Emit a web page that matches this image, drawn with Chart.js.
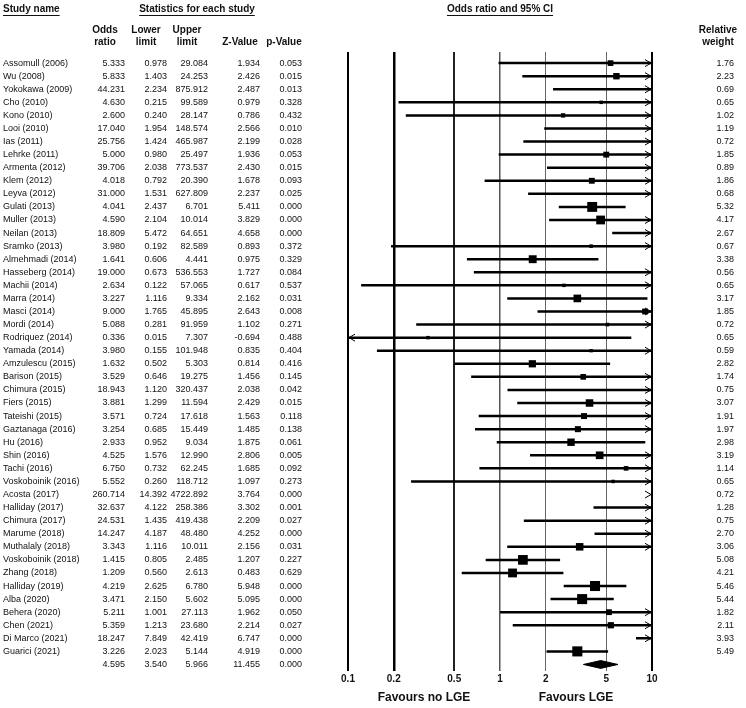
<!DOCTYPE html>
<html>
<head>
<meta charset="utf-8">
<script src="https://cdn.jsdelivr.net/npm/chart.js@4.4.0/dist/chart.umd.min.js"></script>
<style>
  html, body { margin: 0; padding: 0; background: #fff; }
  #wrap { position: relative; width: 746px; height: 708px; }
</style>
</head>
<body>
<div id="wrap"><canvas id="forest" width="746" height="708"></canvas></div>
<script>
// Dados do forest plot
const studies = [
    'Assomull (2006)', 'Wu (2008)', 'Yokokawa (2009)', 'Cho (2010)', 'Kono (2010)', 'Looi (2010)',
    'Ias (2011)', 'Lehrke (2011)', 'Armenta (2012)', 'Klem (2012)', 'Leyva (2012)', 'Gulati (2013)',
    'Muller (2013)', 'Neilan (2013)', 'Sramko (2013)', 'Almehmadi (2014)', 'Hasseberg (2014)', 'Machii (2014)',
    'Marra (2014)', 'Masci (2014)', 'Mordi (2014)', 'Rodriquez (2014)', 'Yamada (2014)', 'Amzulescu (2015)',
    'Barison (2015)', 'Chimura (2015)', 'Fiers (2015)', 'Tateishi (2015)', 'Gaztanaga (2016)', 'Hu (2016)',
    'Shin (2016)', 'Tachi (2016)', 'Voskoboinik (2016)', 'Acosta (2017)', 'Halliday (2017)', 'Chimura (2017)',
    'Marume (2018)', 'Muthalaly (2018)', 'Voskoboinik (2018)', 'Zhang (2018)', 'Halliday (2019)', 'Alba (2020)',
    'Behera (2020)', 'Chen (2021)', 'Di Marco (2021)', 'Guarici (2021)'
];
const oddsRatio = [
    5.333, 5.833, 44.231, 4.630, 2.600, 17.040, 25.756, 5.000, 39.706, 4.018, 31.000, 4.041,
    4.590, 18.809, 3.980, 1.641, 19.000, 2.634, 3.227, 9.000, 5.088, 0.336, 3.980, 1.632,
    3.529, 18.943, 3.881, 3.571, 3.254, 2.933, 4.525, 6.750, 5.552, 260.714, 32.637, 24.531,
    14.247, 3.343, 1.415, 1.209, 4.219, 3.471, 5.211, 5.359, 18.247, 3.226
];
const lowerLimit = [
    0.978, 1.403, 2.234, 0.215, 0.240, 1.954, 1.424, 0.980, 2.038, 0.792, 1.531, 2.437,
    2.104, 5.472, 0.192, 0.606, 0.673, 0.122, 1.116, 1.765, 0.281, 0.015, 0.155, 0.502,
    0.646, 1.120, 1.299, 0.724, 0.685, 0.952, 1.576, 0.732, 0.260, 14.392, 4.122, 1.435,
    4.187, 1.116, 0.805, 0.560, 2.625, 2.150, 1.001, 1.213, 7.849, 2.023
];
const upperLimit = [
    29.084, 24.253, 875.912, 99.589, 28.147, 148.574, 465.987, 25.497, 773.537, 20.390, 627.809, 6.701,
    10.014, 64.651, 82.589, 4.441, 536.553, 57.065, 9.334, 45.895, 91.959, 7.307, 101.948, 5.303,
    19.275, 320.437, 11.594, 17.618, 15.449, 9.034, 12.990, 62.245, 118.712, 4722.892, 258.386, 419.438,
    48.480, 10.011, 2.485, 2.613, 6.780, 5.602, 27.113, 23.680, 42.419, 5.144
];
const zValue = [
    1.934, 2.426, 2.487, 0.979, 0.786, 2.566, 2.199, 1.936, 2.430, 1.678, 2.237, 5.411,
    3.829, 4.658, 0.893, 0.975, 1.727, 0.617, 2.162, 2.643, 1.102, -0.694, 0.835, 0.814,
    1.456, 2.038, 2.429, 1.563, 1.485, 1.875, 2.806, 1.685, 1.097, 3.764, 3.302, 2.209,
    4.252, 2.156, 1.207, 0.483, 5.948, 5.095, 1.962, 2.214, 6.747, 4.919
];
const pValue = [
    0.053, 0.015, 0.013, 0.328, 0.432, 0.010, 0.028, 0.053, 0.015, 0.093, 0.025, 0.000,
    0.000, 0.000, 0.372, 0.329, 0.084, 0.537, 0.031, 0.008, 0.271, 0.488, 0.404, 0.416,
    0.145, 0.042, 0.015, 0.118, 0.138, 0.061, 0.005, 0.092, 0.273, 0.000, 0.001, 0.027,
    0.000, 0.031, 0.227, 0.629, 0.000, 0.000, 0.050, 0.027, 0.000, 0.000
];
const relWeight = [
    1.76, 2.23, 0.69, 0.65, 1.02, 1.19, 0.72, 1.85, 0.89, 1.86, 0.68, 5.32,
    4.17, 2.67, 0.67, 3.38, 0.56, 0.65, 3.17, 1.85, 0.72, 0.65, 0.59, 2.82,
    1.74, 0.75, 3.07, 1.91, 1.97, 2.98, 3.19, 1.14, 0.65, 0.72, 1.28, 0.75,
    2.70, 3.06, 5.08, 4.21, 5.46, 5.44, 1.82, 2.11, 3.93, 5.49
];
// Efeito combinado: odds ratio, limite inferior, limite superior, Z, p
const summaryStats = [4.595, 3.540, 5.966, 11.455, 0.000];

const tickValues = [0.1, 0.2, 0.5, 1, 2, 5, 10];
const tickLabels = ['0.1', '0.2', '0.5', '1', '2', '5', '10'];

const summaryRow = studies.length;
const ink = '#111';

// Segmentos dos intervalos de confiança (quebrados com null)
let ciSegments = [];
for (let i = 0; i < studies.length; i++) {
    ciSegments.push({ x: lowerLimit[i], y: i });
    ciSegments.push({ x: upperLimit[i], y: i });
    ciSegments.push({ x: upperLimit[i], y: null });
}

let squares = studies.map((s, i) => ({ x: oddsRatio[i], y: i }));

let diamond = [
    { x: summaryStats[1], y: summaryRow },
    { x: summaryStats[0], y: summaryRow - 0.3 },
    { x: summaryStats[2], y: summaryRow },
    { x: summaryStats[0], y: summaryRow + 0.3 },
    { x: summaryStats[1], y: summaryRow }
];

function fmt(v, d) {
    return v.toFixed(d);
}

// Plugin para desenhar a tabela, setas e rótulos
const forestTable = {
    id: 'forestTable',
    afterDatasetsDraw(chart) {
        const ctx = chart.ctx;
        const xs = chart.scales.x;
        const ys = chart.scales.y;
        const xMin = xs.getPixelForValue(tickValues[0]);
        const xMax = xs.getPixelForValue(tickValues[tickValues.length - 1]);
        ctx.save();
        ctx.strokeStyle = '#000';
        ctx.lineWidth = 1;
        for (let i = 0; i < studies.length; i++) {
            let y = ys.getPixelForValue(i);
            if (upperLimit[i] > 10) {
                ctx.beginPath();
                ctx.moveTo(xMax - 7, y - 3.5);
                ctx.lineTo(xMax - 1, y);
                ctx.lineTo(xMax - 7, y + 3.5);
                ctx.stroke();
            }
            if (lowerLimit[i] < 0.1) {
                ctx.beginPath();
                ctx.moveTo(xMin + 7, y - 3.5);
                ctx.lineTo(xMin + 1, y);
                ctx.lineTo(xMin + 7, y + 3.5);
                ctx.stroke();
            }
        }
        ctx.restore();
    },
    afterDraw(chart) {
        const ctx = chart.ctx;
        const xs = chart.scales.x;
        const ys = chart.scales.y;
        const area = chart.chartArea;
        ctx.save();
        ctx.fillStyle = ink;
        ctx.strokeStyle = ink;
        ctx.textBaseline = 'middle';

        function underlined(text, x, y, align) {
            ctx.textAlign = align;
            ctx.fillText(text, x, y);
            let w = ctx.measureText(text).width;
            let x0 = align === 'center' ? x - w / 2 : x;
            ctx.lineWidth = 1;
            ctx.beginPath();
            ctx.moveTo(x0, y + 6.5);
            ctx.lineTo(x0 + w, y + 6.5);
            ctx.stroke();
        }

        // Títulos
        ctx.font = 'bold 10px "Liberation Sans", Arial, sans-serif';
        underlined('Study name', 3, 9, 'left');
        underlined('Statistics for each study', 197, 9, 'center');
        underlined('Odds ratio and 95% CI', (area.left + area.right) / 2, 9, 'center');

        // Cabeçalhos das colunas
        ctx.textAlign = 'center';
        const headTop = ['Odds', 'Lower', 'Upper', '', ''];
        const headBottom = ['ratio', 'limit', 'limit', 'Z-Value', 'p-Value'];
        const headCenter = [105, 146, 187, 240, 284];
        for (let c = 0; c < headCenter.length; c++) {
            ctx.fillText(headTop[c], headCenter[c], 30);
            ctx.fillText(headBottom[c], headCenter[c], 42);
        }
        ctx.fillText('Relative', 718, 30);
        ctx.fillText('weight', 718, 42);

        // Linhas da tabela
        const colRight = [125, 167, 208, 260, 302];
        ctx.font = '9px "Liberation Sans", Arial, sans-serif';
        for (let i = 0; i < studies.length; i++) {
            let y = ys.getPixelForValue(i);
            ctx.textAlign = 'left';
            ctx.fillText(studies[i], 3, y);
            ctx.textAlign = 'right';
            let vals = [oddsRatio[i], lowerLimit[i], upperLimit[i], zValue[i], pValue[i]];
            for (let c = 0; c < vals.length; c++) {
                ctx.fillText(fmt(vals[c], 3), colRight[c], y);
            }
            ctx.fillText(fmt(relWeight[i], 2), 734, y);
        }
        let ySum = ys.getPixelForValue(summaryRow);
        for (let c = 0; c < summaryStats.length; c++) {
            ctx.fillText(fmt(summaryStats[c], 3), colRight[c], ySum);
        }

        // Rótulos inferiores
        ctx.font = 'bold 12px "Liberation Sans", Arial, sans-serif';
        ctx.textAlign = 'center';
        let x1 = xs.getPixelForValue(1);
        ctx.fillText('Favours no LGE', x1 - 76, 698);
        ctx.fillText('Favours LGE', x1 + 76, 698);
        ctx.restore();
    }
};

const gridWidths = [2, 2.5, 2, 1.5, 1, 1, 2];
const gridColors = ['#000', '#000', '#222', '#555', '#666', '#666', '#000'];

let ctx = document.getElementById('forest').getContext('2d');
window.forestChart = new Chart(ctx, {
    type: 'scatter',
    data: {
        datasets: [
            {
                label: 'IC 95%',
                type: 'line',
                data: ciSegments,
                borderColor: '#000',
                borderWidth: 2.5,
                pointRadius: 0,
                spanGaps: false,
                fill: false,
                clip: 0
            },
            {
                label: 'Odds ratio',
                data: squares,
                pointStyle: 'rect',
                pointRadius: function(c) {
                    return 4.3 * Math.sqrt(relWeight[c.dataIndex]) / Math.SQRT2;
                },
                pointBorderWidth: 0,
                pointBackgroundColor: '#000',
                clip: 0
            },
            {
                label: 'Efeito combinado',
                type: 'line',
                data: diamond,
                borderColor: '#000',
                borderWidth: 1,
                backgroundColor: '#000',
                pointRadius: 0,
                fill: 'shape'
            }
        ]
    },
    options: {
        responsive: false,
        animation: false,
        devicePixelRatio: 1,
        layout: {
            padding: { left: 348, right: 94, top: 52, bottom: 21 }
        },
        plugins: {
            legend: { display: false },
            tooltip: { enabled: false }
        },
        scales: {
            x: {
                type: 'logarithmic',
                min: 0.1,
                max: 10,
                afterBuildTicks: function(axis) {
                    axis.ticks = tickValues.map(v => ({ value: v }));
                },
                ticks: {
                    autoSkip: false,
                    maxRotation: 0,
                    padding: 2,
                    color: ink,
                    font: { family: '"Liberation Sans", Arial, sans-serif', size: 10, weight: 'bold' },
                    callback: function(value) {
                        let k = tickValues.indexOf(value);
                        return k >= 0 ? tickLabels[k] : '';
                    }
                },
                grid: {
                    drawTicks: false,
                    color: c => gridColors[c.index] || '#000',
                    lineWidth: c => gridWidths[c.index] || 1
                },
                border: { display: false }
            },
            y: {
                type: 'linear',
                reverse: true,
                min: -0.85,
                max: summaryRow + 0.5,
                display: false
            }
        }
    },
    plugins: [forestTable]
});
</script>
</body>
</html>
